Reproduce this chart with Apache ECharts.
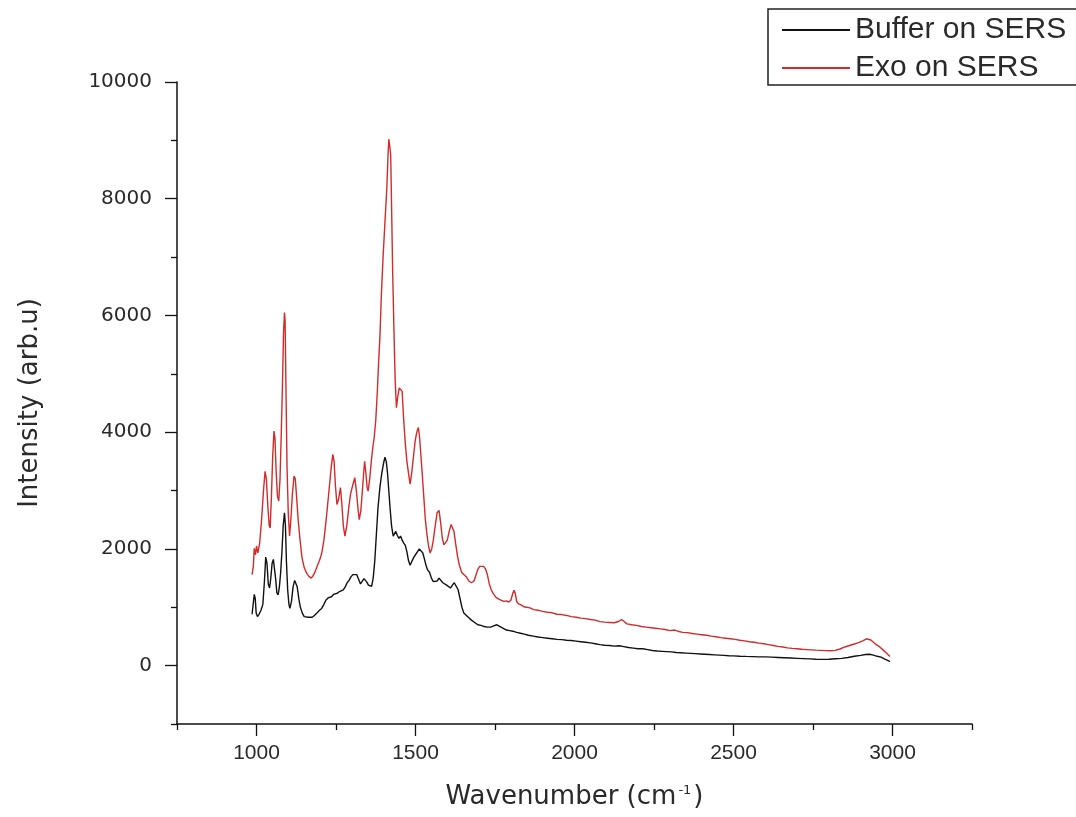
<!DOCTYPE html>
<html>
<head>
<meta charset="utf-8">
<script src="https://cdn.jsdelivr.net/npm/echarts@6/dist/echarts.min.js"></script>
<style>
html,body{margin:0;padding:0;background:#fff;}
#chart{width:1076px;height:817px;}
</style>
</head>
<body>
<div id="chart"></div>
<script>
// ---- data ----
const seriesNames = ['Buffer on SERS', 'Exo on SERS'];

const exoWave = [986,990,993,997,1000,1004,1010,1016,1022,1027,1031,1036,1040,1043,1047,1051,1055,1058,1062,1066,1070,1074,1078,1082,1085,1088,1090,1093,1096,1100,1104,1108,1113,1118,1122,1126,1131,1137,1143,1150,1158,1165,1172,1178,1185,1192,1200,1206,1212,1220,1228,1235,1240,1244,1248,1253,1258,1264,1268,1273,1278,1284,1290,1296,1303,1309,1314,1319,1323,1328,1333,1337,1340,1344,1348,1351,1356,1361,1366,1370,1375,1380,1384,1388,1393,1398,1402,1406,1410,1414,1416,1419,1422,1425,1428,1432,1436,1440,1444,1449,1454,1458,1463,1468,1473,1478,1483,1488,1494,1499,1504,1509,1513,1517,1521,1526,1531,1536,1541,1546,1551,1556,1562,1568,1574,1579,1584,1589,1594,1600,1606,1612,1617,1621,1626,1632,1638,1645,1652,1660,1668,1676,1684,1690,1696,1702,1708,1714,1720,1726,1732,1738,1745,1753,1762,1770,1778,1786,1793,1800,1806,1810,1814,1818,1824,1832,1840,1850,1860,1872,1885,1900,1915,1930,1945,1960,1975,1990,2005,2020,2035,2050,2065,2080,2095,2110,2125,2140,2148,2155,2165,2180,2195,2210,2225,2240,2255,2270,2285,2300,2315,2325,2340,2355,2370,2385,2400,2415,2430,2445,2460,2475,2490,2505,2520,2535,2550,2565,2580,2595,2610,2625,2640,2655,2670,2685,2700,2715,2730,2745,2760,2775,2790,2805,2820,2835,2850,2865,2880,2895,2908,2918,2924,2932,2940,2950,2960,2970,2980,2992];
const exoIntensity = [1560,1700,2010,1900,2050,1930,2100,2500,3000,3330,3200,2700,2400,2360,2900,3600,4020,3900,3300,2900,2820,3200,4000,4900,5700,6050,5900,4600,3400,2600,2220,2500,2950,3250,3200,2900,2500,2150,1850,1680,1580,1530,1500,1540,1620,1720,1830,1950,2150,2550,3000,3400,3620,3500,3100,2760,2850,3050,2800,2400,2220,2400,2700,2950,3100,3220,3000,2700,2500,2650,3000,3300,3500,3300,3050,2990,3200,3500,3750,3900,4200,4700,5200,5620,6400,7000,7400,7800,8200,8800,9020,8900,8750,7800,6800,5800,4900,4420,4600,4760,4750,4700,4200,3800,3500,3300,3110,3300,3600,3850,4000,4080,3900,3600,3300,2900,2500,2250,2050,1930,2000,2150,2400,2620,2660,2450,2200,2070,2080,2150,2300,2420,2440,2300,2100,1880,1720,1600,1560,1520,1450,1420,1450,1550,1650,1700,1690,1700,1660,1560,1400,1300,1230,1170,1140,1120,1100,1110,1090,1120,1240,1290,1230,1100,1060,1040,1010,1000,990,960,950,930,915,905,880,875,860,840,830,815,805,790,780,755,745,740,735,760,790,760,715,700,690,670,660,650,640,630,620,600,610,590,570,565,550,540,530,520,505,495,480,470,460,450,435,425,410,400,385,375,360,345,330,320,305,295,290,280,275,270,265,262,258,255,262,285,320,345,370,400,430,460,470,440,400,355,320,270,220,155];

const bufferWave = [986,990,993,996,999,1003,1008,1014,1020,1025,1029,1033,1037,1041,1045,1049,1053,1056,1060,1064,1068,1072,1076,1080,1084,1088,1091,1094,1098,1102,1105,1110,1115,1120,1124,1128,1133,1138,1144,1150,1156,1162,1168,1175,1182,1190,1198,1205,1212,1218,1225,1230,1236,1242,1248,1254,1261,1267,1273,1279,1285,1291,1297,1303,1309,1315,1321,1327,1333,1338,1342,1347,1352,1357,1362,1367,1372,1377,1382,1388,1394,1400,1404,1408,1412,1416,1420,1425,1430,1434,1438,1443,1448,1453,1458,1463,1468,1473,1478,1483,1488,1494,1500,1506,1512,1518,1523,1528,1533,1538,1544,1550,1556,1562,1568,1574,1580,1586,1592,1598,1604,1610,1616,1622,1628,1634,1640,1646,1652,1660,1668,1676,1686,1696,1706,1716,1726,1736,1746,1756,1766,1776,1786,1796,1806,1818,1830,1842,1855,1870,1885,1900,1915,1930,1945,1960,1975,1990,2005,2020,2035,2050,2065,2080,2095,2110,2125,2140,2155,2170,2185,2200,2215,2230,2245,2260,2275,2290,2305,2320,2335,2350,2365,2380,2395,2410,2425,2440,2455,2470,2485,2500,2520,2540,2560,2580,2600,2620,2640,2660,2680,2700,2720,2740,2760,2780,2800,2820,2840,2860,2880,2900,2915,2928,2940,2952,2964,2976,2988,2992];
const bufferIntensity = [880,900,1220,1150,900,840,880,950,1050,1450,1860,1750,1400,1330,1500,1750,1820,1810,1500,1250,1210,1350,1600,1950,2400,2620,2400,1800,1300,1050,980,1100,1350,1460,1470,1350,1150,1000,900,840,810,830,850,830,860,900,950,980,1050,1120,1160,1150,1180,1220,1200,1240,1270,1250,1300,1350,1420,1460,1520,1560,1590,1560,1480,1400,1420,1490,1500,1430,1380,1350,1360,1500,1800,2250,2700,3050,3300,3480,3570,3500,3300,3000,2700,2380,2220,2250,2300,2230,2180,2220,2150,2100,2060,1950,1800,1720,1780,1850,1900,1950,2000,1990,1930,1830,1720,1640,1600,1500,1440,1420,1450,1500,1480,1420,1400,1380,1350,1330,1380,1420,1390,1300,1150,1000,900,860,820,780,740,700,690,670,660,660,680,700,670,640,610,600,590,570,555,540,520,505,490,480,470,460,450,445,435,430,420,410,400,390,375,360,350,345,335,340,325,310,300,290,290,275,260,250,245,240,235,225,220,215,210,205,200,195,190,185,180,175,170,168,162,158,155,150,150,145,140,135,130,125,120,115,110,108,110,118,125,140,160,175,190,195,180,160,145,110,80,70];

// axis ticks / labels
const xMajorTicks = [1000, 1500, 2000, 2500, 3000];
const xMinorTicks = [750, 1250, 1750, 2250, 2750, 3250];
const yMajorTicks = [0, 2000, 4000, 6000, 8000, 10000];
const yMinorTicks = [-1000, 1000, 3000, 5000, 7000, 9000];

function zip(a, b) { return a.map((v, i) => [v, b[i]]); }
function plain(v) { return String(v); }

const chart = echarts.init(document.getElementById('chart'), null, {renderer: 'canvas'});

const axisLineStyle = {color: '#111', width: 1.5};

const option = {
  backgroundColor: '#ffffff',
  animation: false,
  grid: {left: 177, right: 104, top: 82, bottom: 93, containLabel: false},
  legend: {
    data: seriesNames,
    orient: 'vertical',
    left: 768,
    top: 9,
    padding: [6, 70, 2, 14],
    itemGap: 8,
    itemWidth: 68,
    itemHeight: 2,
    icon: 'rect',
    borderColor: '#222',
    borderWidth: 1.5,
    backgroundColor: '#fff',
    textStyle: {fontFamily: 'Liberation Sans', fontSize: 30, color: '#2a2a2a', lineHeight: 30}
  },
  xAxis: [
    {
      type: 'value', min: 750, max: 3250,
      name: 'Wavenumber (cm{sup|-1})',
      nameLocation: 'middle', nameGap: 60,
      nameTextStyle: {fontFamily: 'DejaVu Sans', fontSize: 26, color: '#2a2a2a',
        rich: {sup: {fontFamily: 'DejaVu Sans', fontSize: 13, color: '#2a2a2a', verticalAlign: 'top', padding: [0, 2, 14, 2]}}},
      axisLine: {show: true, onZero: false, lineStyle: axisLineStyle},
      axisTick: {show: true, inside: false, length: 12, lineStyle: {color: '#111', width: 1.3}, customValues: xMajorTicks},
      axisLabel: {show: true, customValues: xMajorTicks, formatter: plain, margin: 19, fontFamily: 'Liberation Sans', fontSize: 21, color: '#2a2a2a'},
      splitLine: {show: false}
    },
    {
      type: 'value', min: 750, max: 3250, position: 'bottom',
      axisLine: {show: false, onZero: false},
      axisTick: {show: true, inside: false, length: 6, lineStyle: {color: '#111', width: 1.3}, customValues: xMinorTicks},
      axisLabel: {show: false},
      splitLine: {show: false}
    }
  ],
  yAxis: [
    {
      type: 'value', min: -1000, max: 10000,
      name: 'Intensity (arb.u)',
      nameLocation: 'middle', nameGap: 134, nameRotate: 90,
      nameTextStyle: {fontFamily: 'DejaVu Sans', fontSize: 26, color: '#2a2a2a'},
      axisLine: {show: true, onZero: false, lineStyle: axisLineStyle},
      axisTick: {show: true, inside: false, length: 12, lineStyle: {color: '#111', width: 1.3}, customValues: yMajorTicks},
      axisLabel: {show: true, customValues: yMajorTicks, formatter: plain, margin: 25, fontFamily: 'DejaVu Sans', fontSize: 20, color: '#2a2a2a'},
      splitLine: {show: false}
    },
    {
      type: 'value', min: -1000, max: 10000, position: 'left',
      axisLine: {show: false, onZero: false},
      axisTick: {show: true, inside: false, length: 6, lineStyle: {color: '#111', width: 1.3}, customValues: yMinorTicks},
      axisLabel: {show: false},
      splitLine: {show: false}
    }
  ],
  series: [
    {
      name: seriesNames[0], type: 'line', xAxisIndex: 0, yAxisIndex: 0,
      data: zip(bufferWave, bufferIntensity),
      showSymbol: false, symbol: 'none',
      lineStyle: {color: '#111111', width: 1.4},
      itemStyle: {color: '#111111'},
      z: 2
    },
    {
      name: seriesNames[1], type: 'line', xAxisIndex: 0, yAxisIndex: 0,
      data: zip(exoWave, exoIntensity),
      showSymbol: false, symbol: 'none',
      lineStyle: {color: '#d42a2a', width: 1.4},
      itemStyle: {color: '#d42a2a'},
      z: 3
    }
  ]
};
chart.setOption(option);
</script>
</body>
</html>
